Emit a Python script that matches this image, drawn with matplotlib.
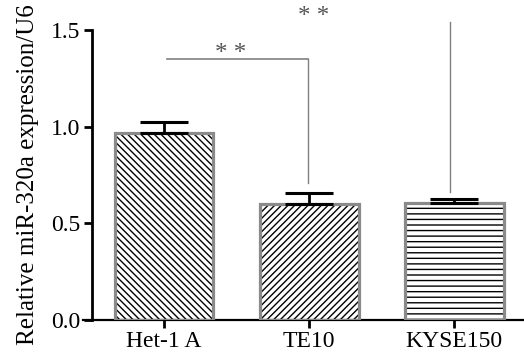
import matplotlib.pyplot as plt

plt.rcParams['font.family'] = ['Liberation Serif', 'DejaVu Serif']
plt.rcParams['hatch.linewidth'] = 1.0

categories = ["Het-1 A", "TE10", "KYSE150"]
means = [0.967, 0.600, 0.605]
errors = [0.055, 0.057, 0.021]
hatches = ["\\\\\\\\\\", "/////", "---"]
y_ticks = [0.0, 0.5, 1.0, 1.5]

fig = plt.figure(figsize=(5.24, 3.58), dpi=100)
ax = fig.add_axes([0.158, 0.106, 0.842, 0.810])

for side in ["top", "right"]:
    ax.spines[side].set_visible(False)
ax.spines["left"].set_position(("data", -0.50))
ax.spines["left"].set_linewidth(2)
ax.spines["bottom"].set_linewidth(1.6)

x = list(range(len(categories)))
width = 0.68

# hatch layer, then grey outline on top
ax.bar(x, means, width=width, color="white", edgecolor="black",
       linewidth=0, hatch=hatches, zorder=2)
ax.bar(x, means, width=width, fill=False, edgecolor="#8a8a8a",
       linewidth=2.3, zorder=3)
ax.errorbar(x, means, yerr=[[0] * 3, errors], fmt="none", ecolor="black",
            elinewidth=2.0, capsize=17, capthick=2.2, zorder=4)

# significance marks
sig_color = "#808080"
ax.plot([0.02, 0.99], [1.35, 1.35], color=sig_color, lw=1.2, clip_on=False)
ax.plot([0.99, 0.99], [1.35, 0.71], color=sig_color, lw=1.0, clip_on=False)
ax.plot([1.97, 1.97], [1.54, 0.66], color=sig_color, lw=1.0, clip_on=False)
ax.text(0.46, 1.377, "* *", ha="center", va="center", fontsize=18,
        color="#555555", clip_on=False)
ax.text(1.03, 1.567, "* *", ha="center", va="center", fontsize=18,
        color="#555555", clip_on=False)

ax.set_xlim(-0.56, 2.48)
ax.set_ylim(0, 1.5)
ax.set_xticks(x)
ax.set_xticklabels(categories)
ax.set_yticks(y_ticks)
ax.set_yticklabels([f"{t:.1f}" for t in y_ticks])
ax.set_ylabel("Relative miR-320a expression/U6", fontsize=18, labelpad=9)
ax.tick_params(axis="both", direction="out", length=6, width=2, pad=2,
               labelsize=17)

fig.savefig("out.png", dpi=100)
